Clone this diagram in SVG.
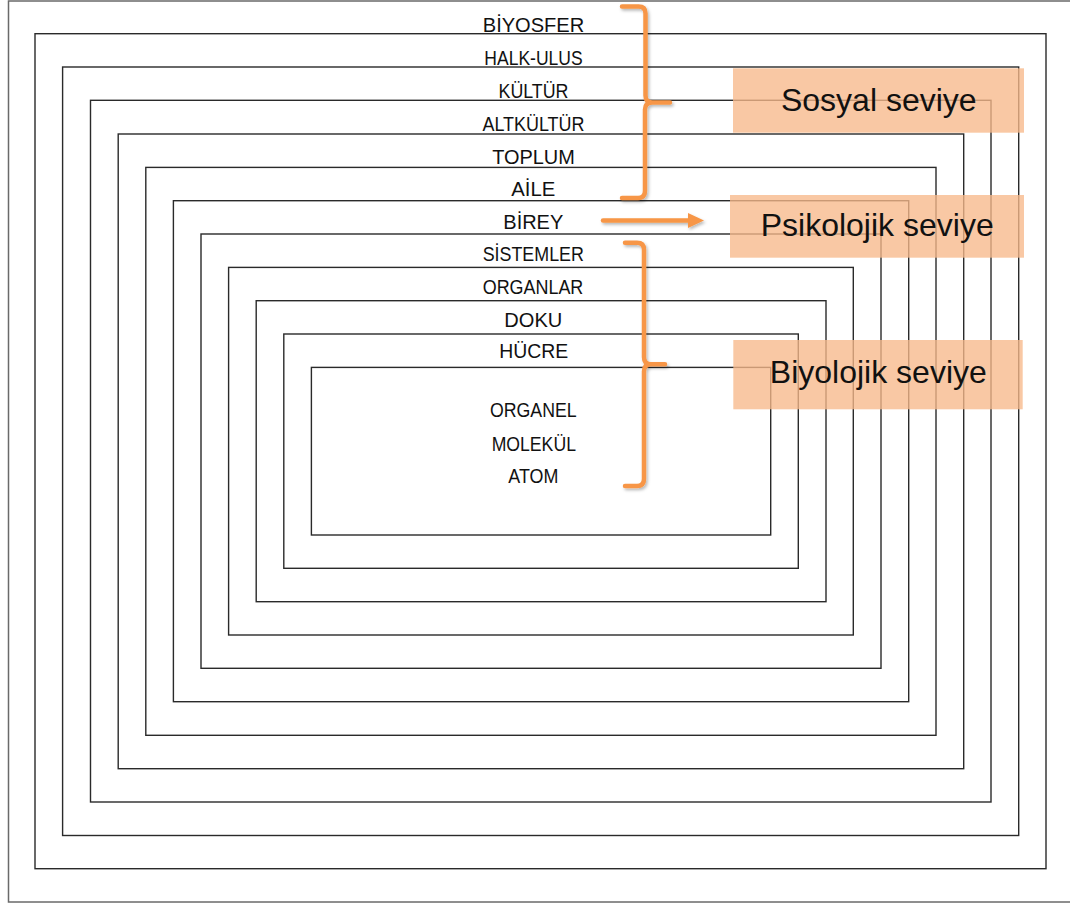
<svg xmlns="http://www.w3.org/2000/svg" width="1070" height="904" viewBox="0 0 1070 904">
<style>
.frame{fill:none;stroke:#2a2a2a;stroke-width:1.4}
.border{fill:none;stroke:#6a6a6a;stroke-width:1.5}
.lvl{font-family:"Liberation Sans",Arial,sans-serif;font-size:21px;fill:#111;text-anchor:middle}
.box{fill:#F7B98A;fill-opacity:0.78}
.boxt{font-family:"Liberation Sans",Arial,sans-serif;font-size:32px;fill:#111;text-anchor:middle}
.brace{fill:none;stroke:#F79646;stroke-width:4.5;stroke-linecap:round;stroke-linejoin:round}
</style>
<defs>
<filter id="sh" x="-20%" y="-20%" width="140%" height="140%">
<feDropShadow dx="1.5" dy="2" stdDeviation="1.5" flood-color="#000" flood-opacity="0.28"/>
</filter>
<marker id="ah" markerUnits="userSpaceOnUse" markerWidth="18" markerHeight="16" refX="2" refY="8" orient="auto">
<polygon points="0,0.5 16,8 0,15.5" fill="#F79646"/>
</marker>
</defs>
<rect width="1070" height="904" fill="#fff"/>
<g id="biyosfer"><rect class="border" x="8.5" y="1" width="1070" height="901"/><text class="lvl" x="533.5" y="32" textLength="101.5" lengthAdjust="spacingAndGlyphs">BİYOSFER</text></g>
<g id="halk-ulus"><rect class="frame" x="35" y="33.7" width="1011" height="835"/><text class="lvl" x="533.5" y="65" textLength="98.3" lengthAdjust="spacingAndGlyphs">HALK-ULUS</text></g>
<g id="kultur"><rect class="frame" x="62.6" y="67" width="956.1" height="768.5"/><text class="lvl" x="533.5" y="98" textLength="70" lengthAdjust="spacingAndGlyphs">KÜLTÜR</text></g>
<g id="altkultur"><rect class="frame" x="90.5" y="100.3" width="900.5" height="701.7"/><text class="lvl" x="533.5" y="130.5" textLength="102" lengthAdjust="spacingAndGlyphs">ALTKÜLTÜR</text></g>
<g id="toplum"><rect class="frame" x="118.2" y="134" width="845.5" height="634.7"/><text class="lvl" x="533.5" y="163.5" textLength="82.7" lengthAdjust="spacingAndGlyphs">TOPLUM</text></g>
<g id="aile"><rect class="frame" x="145.8" y="167.4" width="790.2" height="567.9"/><text class="lvl" x="533.3" y="196" textLength="44" lengthAdjust="spacingAndGlyphs">AİLE</text></g>
<g id="birey"><rect class="frame" x="173.4" y="200.7" width="735.3" height="501"/><text class="lvl" x="533.3" y="228.5" textLength="60" lengthAdjust="spacingAndGlyphs">BİREY</text></g>
<g id="sistemler"><rect class="frame" x="201" y="234" width="680" height="434.3"/><text class="lvl" x="533.3" y="261" textLength="101.3" lengthAdjust="spacingAndGlyphs">SİSTEMLER</text></g>
<g id="organlar"><rect class="frame" x="228.6" y="267.4" width="624.7" height="367.6"/><text class="lvl" x="533" y="294" textLength="100.6" lengthAdjust="spacingAndGlyphs">ORGANLAR</text></g>
<g id="doku"><rect class="frame" x="256.2" y="300.7" width="569.8" height="301"/><text class="lvl" x="533.3" y="326.7" textLength="58" lengthAdjust="spacingAndGlyphs">DOKU</text></g>
<g id="hucre"><rect class="frame" x="283.8" y="334" width="514.5" height="234.3"/><text class="lvl" x="533.8" y="358.3" textLength="69" lengthAdjust="spacingAndGlyphs">HÜCRE</text></g>
<g id="organel-molekul-atom"><rect class="frame" x="311.4" y="367.4" width="459.3" height="167.6"/>
<text class="lvl" x="533.3" y="417.3" textLength="86.7" lengthAdjust="spacingAndGlyphs">ORGANEL</text>
<text class="lvl" x="533.8" y="451" textLength="84.3" lengthAdjust="spacingAndGlyphs">MOLEKÜL</text>
<text class="lvl" x="533.3" y="482.7" textLength="50" lengthAdjust="spacingAndGlyphs">ATOM</text></g>
<g id="connectors" filter="url(#sh)">
<path class="brace" d="M622,6.5 H638.5 Q645.5,6.5 645.5,13.5 V95.5 Q645.5,102.5 652.5,102.5 H670 M652.5,102.5 Q645,102.5 645,109.5 V191 Q645,198 638,198 H622"/>
<path class="brace" d="M625,242.7 H637 Q644,242.7 644,249.7 V357.3 Q644,364.3 651,364.3 H665 M651,364.3 Q644,364.3 644,371.3 V479 Q644,486 637,486 H625"/>
<path class="brace" d="M603,220.5 H690" marker-end="url(#ah)"/>
</g>
<g id="sosyal-seviye"><rect class="box" x="733" y="68.3" width="291" height="64.4"/><text class="boxt" x="878.8" y="111">Sosyal seviye</text></g>
<g id="psikolojik-seviye"><rect class="box" x="730" y="195" width="294" height="62.7"/><text class="boxt" x="877.2" y="235.7">Psikolojik seviye</text></g>
<g id="biyolojik-seviye"><rect class="box" x="733.3" y="340" width="289.4" height="69.3"/><text class="boxt" x="878.3" y="382.7">Biyolojik seviye</text></g>
</svg>
